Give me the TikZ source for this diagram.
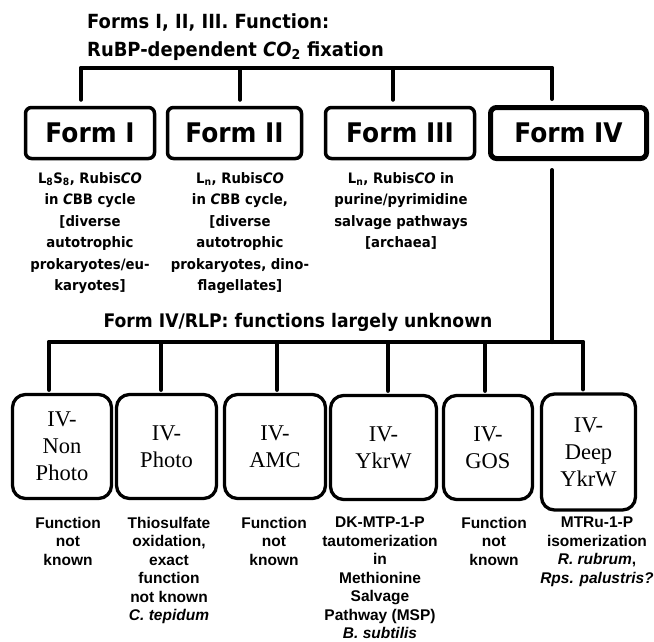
\documentclass[tikz,border=0pt]{standalone}
\usepackage{fontspec}
\usepackage{xcolor}
\newfontfamily\comicfont[FakeStretch=0.92]{DejaVu Sans}
\newfontfamily\arialfont{Liberation Sans}
\newfontfamily\timesfont{Liberation Serif}
\definecolor{inkline}{RGB}{0,0,0}

\begin{document}
\begin{tikzpicture}[
    x=1pt, y=-1pt,
    bar/.style={draw=inkline, line width=4pt, line cap=round},
    formbox/.style={draw=inkline, line width=3.5pt, rounded corners=6pt, minimum height=51pt,
                    font=\comicfont\bfseries\fontsize{27}{30}\selectfont, inner sep=0pt},
    rlpbox/.style={draw=inkline, line width=3.3pt, rounded corners=13pt, minimum height=104pt,
                   font=\timesfont\fontsize{22.5}{27}\selectfont, align=center, inner sep=0pt},
    desc/.style={font=\comicfont\bfseries\fontsize{14.4}{21.5}\selectfont, align=center, anchor=north, inner sep=0pt},
    caption/.style={font=\arialfont\bfseries\fontsize{15.5}{18.5}\selectfont, align=center, anchor=north, inner sep=0pt},
]
\useasboundingbox (0,0) rectangle (654,641);

\node[anchor=west, align=left, inner sep=0pt, font=\comicfont\bfseries\fontsize{19.5}{28}\selectfont] (title) at (87,37)
    {Forms I, II, III. Function:\\RuBP-dependent \textit{CO}\textsubscript{2} fixation};

\node[formbox, minimum width=129pt] (formI) at (90,133) {Form I};
\node[formbox, minimum width=134pt] (formII) at (234.5,133) {Form II};
\node[formbox, minimum width=149pt] (formIII) at (400,133) {Form III};
\node[formbox, line width=5pt, minimum width=156pt] (formIV) at (568.5,133) {Form IV};

\foreach \x/\n in {81/formI, 240/formII, 393/formIII, 552/formIV}{
    \coordinate (j\n) at (\x,68);
    \draw[bar, shorten >=6pt] (j\n) -- (j\n |- \n.north);
}
\draw[bar] (jformI) -- (jformIV);

\node[desc] (descI) at (90,172) {L\textsubscript{8}S\textsubscript{8}, Rubis\textit{CO}\\in \textit{C}BB cycle\\{[}diverse\\autotrophic\\prokaryotes/eu-\\karyotes]};
\node[desc] (descII) at (240,172) {L\textsubscript{n}, Rubis\textit{CO}\\in \textit{C}BB cycle,\\{[}diverse\\autotrophic\\prokaryotes, dino-\\flagellates]};
\node[desc] (descIII) at (401,172) {L\textsubscript{n}, Rubis\textit{CO} in\\purine/pyrimidine\\salvage pathways\\{[}archaea]};

\node[inner sep=0pt, font=\comicfont\bfseries\fontsize{18.7}{22}\selectfont] (rlptitle) at (298,322) {Form IV/RLP: functions largely unknown};

\node[rlpbox, minimum width=99pt] (nonphoto) at (62,446.5) {IV-\\Non\\Photo};
\node[rlpbox, minimum width=100pt] (photo) at (166.5,446.5) {IV-\\Photo};
\node[rlpbox, minimum width=101pt] (amc) at (275,446.5) {IV-\\AMC};
\node[rlpbox, minimum width=106pt] (ykrw) at (383.5,447.5) {IV-\\YkrW};
\node[rlpbox, minimum width=89pt] (gos) at (488,447.5) {IV-\\GOS};
\node[rlpbox, minimum width=94pt, minimum height=116pt] (deepykrw) at (588.5,452) {IV-\\Deep\\YkrW};

\coordinate (rlpjoin) at (552,342);
\draw[bar, shorten <=9pt] (formIV.south -| jformIV) -- (rlpjoin);
\foreach \x/\n in {49/nonphoto, 161/photo, 277/amc, 388/ykrw, 485/gos, 583/deepykrw}{
    \coordinate (j\n) at (\x,342);
    \draw[bar, shorten >=3pt] (j\n) -- (j\n |- \n.north);
}
\draw[bar] (jnonphoto) -- (jdeepykrw);

\node[caption] (capnonphoto) at (68,517) {Function\\not\\known};
\node[caption] (capphoto) at (169,517) {Thiosulfate\\oxidation,\\exact\\function\\not known\\\textit{C. tepidum}};
\node[caption] (capamc) at (274,517) {Function\\not\\known};
\node[caption] (capykrw) at (380,517) {DK-MTP-1-P\\tautomerization\\in\\Methionine\\Salvage\\Pathway (MSP)\\\textit{B. subtilis}};
\node[caption] (capgos) at (494,517) {Function\\not\\known};
\node[caption] (capdeepykrw) at (597,517) {MTRu-1-P\\isomerization\\\textit{R. rubrum},\\\textit{Rps. palustris?}};
\end{tikzpicture}
\end{document}
